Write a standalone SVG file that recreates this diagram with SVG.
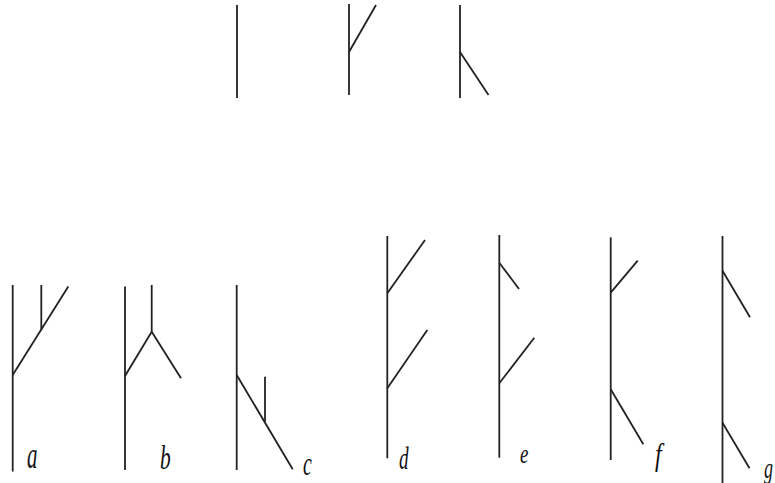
<svg xmlns="http://www.w3.org/2000/svg" width="775" height="483" viewBox="0 0 775 483">
<style>
line, polyline { stroke: #222; stroke-width: 1.8; fill: none; stroke-linecap: butt; }
text { font-family: "Liberation Serif", "Times New Roman", serif; font-style: italic; fill: #111; }
</style>
<rect width="775" height="483" fill="#fff"/>
<g id="connectors">
<g id="top1"><line x1="237" y1="5" x2="237" y2="98"/></g>
<g id="top2"><line x1="349" y1="4" x2="349" y2="95"/><line x1="349" y1="52" x2="376" y2="5"/></g>
<g id="top3"><line x1="460" y1="5" x2="460" y2="98"/><line x1="460" y1="52" x2="488.5" y2="95"/></g>
</g>
<g id="fig-a">
<line x1="12.7" y1="285" x2="12.7" y2="471.5"/>
<line x1="12.7" y1="375" x2="68.3" y2="286.5"/>
<line x1="41.3" y1="285" x2="41.3" y2="330"/>
<text transform="translate(27,468) scale(0.55,1)" font-size="38">a</text>
</g>
<g id="fig-b">
<line x1="125" y1="286.5" x2="125" y2="470"/>
<polyline points="125,376 151.7,331.7 181,378.3"/>
<line x1="151.7" y1="285" x2="151.7" y2="331.7"/>
<text transform="translate(160,469) scale(0.65,1)" font-size="33">b</text>
</g>
<g id="fig-c">
<line x1="236.7" y1="285" x2="236.7" y2="470"/>
<line x1="236.7" y1="375" x2="292.7" y2="469.3"/>
<line x1="265" y1="376.7" x2="265" y2="421.7"/>
<text transform="translate(303,475) scale(0.6,1)" font-size="33">c</text>
</g>
<g id="fig-d">
<line x1="387.3" y1="236" x2="387.3" y2="458.3"/>
<line x1="387.3" y1="293.3" x2="425" y2="240"/>
<line x1="387.3" y1="388.3" x2="427.3" y2="330"/>
<text transform="translate(399,469) scale(0.6,1)" font-size="32">d</text>
</g>
<g id="fig-e">
<line x1="499.3" y1="235" x2="499.3" y2="457.7"/>
<line x1="499.3" y1="262.7" x2="519" y2="289"/>
<line x1="499.3" y1="383.3" x2="534.3" y2="337.7"/>
<text transform="translate(520,463) scale(0.7,1)" font-size="27">e</text>
</g>
<g id="fig-f">
<line x1="610.7" y1="237.3" x2="610.7" y2="460"/>
<line x1="610.7" y1="292.7" x2="637.7" y2="260.7"/>
<line x1="610.7" y1="389.3" x2="643.3" y2="444.3"/>
<text transform="translate(655,465) scale(0.75,1)" font-size="32">f</text>
</g>
<g id="fig-g">
<line x1="722.5" y1="236" x2="722.5" y2="483"/>
<line x1="722.5" y1="270.7" x2="750" y2="317.3"/>
<line x1="722.5" y1="422.7" x2="749.5" y2="468.3"/>
<text transform="translate(764,478) scale(0.6,1)" font-size="30">g</text>
</g>
</svg>
